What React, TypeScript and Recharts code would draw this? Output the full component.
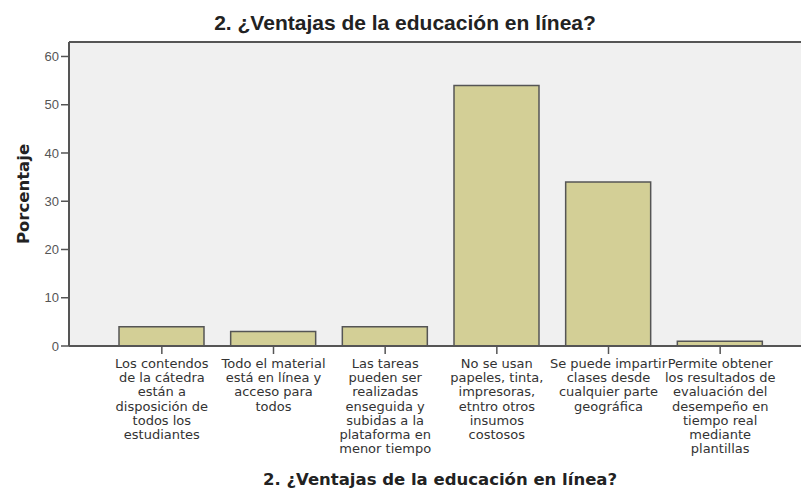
import React from "react"
import { BarChart, Bar, XAxis, YAxis, CartesianGrid, ReferenceLine } from "recharts"

const title = "2. ¿Ventajas de la educación en línea?"

const categories = [
  ["Los contendos", "de la cátedra", "están a", "disposición de", "todos los", "estudiantes"],
  ["Todo el material", "está en línea y", "acceso para", "todos"],
  ["Las tareas", "pueden ser", "realizadas", "enseguida y", "subidas a la", "plataforma en", "menor tiempo"],
  ["No se usan", "papeles, tinta,", "impresoras,", "etntro otros", "insumos", "costosos"],
  ["Se puede impartir", "clases desde", "cualquier parte", "geográfica"],
  ["Permite obtener", "los resultados de", "evaluación del", "desempeño en", "tiempo real", "mediante", "plantillas"],
]

const porcentaje = [4, 3, 4, 54, 34, 1]

const yTicks = [0, 10, 20, 30, 40, 50, 60]

const data = categories.map((lines, i) => ({
  name: lines.join(" "),
  value: porcentaje[i],
}))

function CategoryTick(props: any) {
  const { x, y, index } = props
  const lines = categories[index] || []
  return (
    <g transform={`translate(${x},${y})`}>
      <text textAnchor="middle" fontSize={13} fill="#333" fontFamily="DejaVu Sans, sans-serif">
        {lines.map((l, i) => (
          <tspan key={i} x={0} dy={i === 0 ? 12 : 14.2}>
            {l}
          </tspan>
        ))}
      </text>
    </g>
  )
}

export default function App() {
  return (
    <div style={{ position: "absolute", left: 0, top: 0, width: 801, height: 491, background: "#fff", overflow: "hidden" }}>
      <div
        style={{
          position: "absolute",
          left: 0,
          width: 810,
          top: 11,
          textAlign: "center",
          fontFamily: "Liberation Sans, Arial, sans-serif",
          fontWeight: "bold",
          fontSize: 21,
          color: "#222",
          whiteSpace: "nowrap",
        }}
      >
        {title}
      </div>
      <BarChart
        width={801}
        height={491}
        data={data}
        margin={{ top: 42, right: 0, bottom: 0, left: 0 }}
        barSize={85}
      >
        <CartesianGrid fill="#f0f0f0" horizontal={false} vertical={false} />
        <XAxis
          dataKey="name"
          interval={0}
          padding={{ left: 37, right: 25 }}
          tick={<CategoryTick />}
          tickSize={8}
          tickLine={{ stroke: "#555", strokeWidth: 1.5 }}
          axisLine={{ stroke: "#555", strokeWidth: 2 }}
          height={145}
        />
        <YAxis
          domain={[0, 63]}
          ticks={yTicks}
          allowDataOverflow
          width={69}
          tickSize={8}
          tickMargin={2}
          tick={{ fontSize: 13, fill: "#555", fontFamily: "Liberation Sans, Arial, sans-serif" }}
          tickLine={{ stroke: "#555", strokeWidth: 1.5 }}
          axisLine={{ stroke: "#555", strokeWidth: 2 }}
          label={{
            value: "Porcentaje",
            angle: -90,
            position: "insideLeft",
            offset: 23,
            style: {
              fontSize: 16.5,
              fontWeight: "bold",
              fill: "#222",
              fontFamily: "DejaVu Sans, sans-serif",
              textAnchor: "middle",
            },
          }}
        />
        <ReferenceLine y={63} stroke="#555" strokeWidth={2} />
        <Bar dataKey="value" fill="#d3cf96" stroke="#555" strokeWidth={1.5} isAnimationActive={false} />
      </BarChart>
      <div
        style={{
          position: "absolute",
          left: 0,
          width: 880,
          top: 470,
          textAlign: "center",
          whiteSpace: "nowrap",
          fontFamily: "DejaVu Sans, sans-serif",
          fontWeight: "bold",
          fontSize: 16.5,
          color: "#222",
        }}
      >
        {title}
      </div>
    </div>
  )
}
